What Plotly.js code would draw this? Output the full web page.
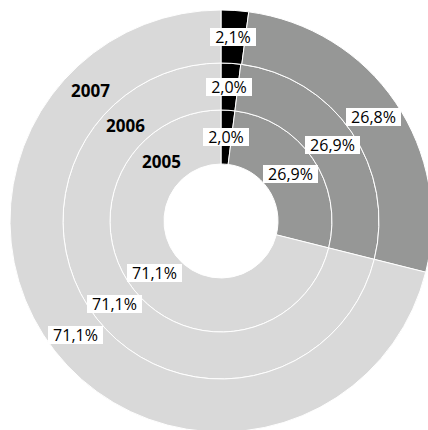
<!DOCTYPE html>
<html>
<head>
<meta charset="utf-8">
<script src="https://cdn.plot.ly/plotly-3.0.1.min.js"></script>
<style>
html,body{margin:0;padding:0;overflow:hidden;background:#fff;}
#chart{width:440px;height:440px;}
</style>
</head>
<body>
<div id="chart"></div>
<script>
// Data
var years = ["2005", "2006", "2007"];
var categories = ["Kategorie A", "Kategorie B", "Kategorie C"];
var values2005 = [2.0, 26.9, 71.1];
var values2006 = [2.0, 26.9, 71.1];
var values2007 = [2.1, 26.8, 71.1];
var colors = ["#000000", "#969796", "#d9d9d9"];

// Layout geometry (pixels)
var W = 440, H = 440;
var cx = 221, cy = 221;
var radii = [57, 111, 158, 211]; // hole, 2005 outer, 2006 outer, 2007 outer
var seriesList = [values2005, values2006, values2007];

function fmt(v){ return v.toFixed(1).replace('.', ',') + '%'; }

var ctx = document.createElement('canvas').getContext('2d');
var FONT_PCT = 16;
ctx.font = FONT_PCT + "px 'Open Sans'";

var traces = [];
var annotations = [];
for (var i = 0; i < 3; i++) {
  var R = radii[i + 1], r = radii[i];
  traces.push({
    type: 'pie',
    values: seriesList[i],
    labels: categories,
    sort: false,
    direction: 'clockwise',
    rotation: 0,
    hole: r / R,
    textinfo: 'none',
    hoverinfo: 'none',
    showlegend: false,
    marker: {colors: colors, line: {color: '#ffffff', width: 1}},
    domain: {
      x: [(cx - R) / W, (cx + R) / W],
      y: [1 - (cy + R) / H, 1 - (cy - R) / H]
    }
  });
  var midR = (R + r) / 2;
  var vals = seriesList[i];
  var total = vals.reduce(function(a, b){ return a + b; }, 0);
  var cum = 0;
  for (var j = 0; j < vals.length; j++) {
    var frac = (cum + vals[j] / 2) / total;
    cum += vals[j];
    var th = frac * 2 * Math.PI;
    var px = cx + midR * Math.sin(th);
    var py = cy - midR * Math.cos(th);
    var txt = fmt(vals[j]);
    var tw = ctx.measureText(txt).width;
    annotations.push({
      xref: 'paper', yref: 'paper',
      x: px / W, y: 1 - py / H,
      xanchor: 'center', yanchor: 'middle',
      text: txt, showarrow: false,
      font: {family: "'Open Sans', sans-serif", size: FONT_PCT, color: '#000000'},
      bgcolor: '#ffffff', borderpad: 0, borderwidth: 0,
      width: Math.round(tw + 10), height: 18
    });
  }
  // year label at 315 degrees
  var ty = 315 / 180 * Math.PI;
  annotations.push({
    xref: 'paper', yref: 'paper',
    x: (cx + midR * Math.sin(ty)) / W, y: 1 - (cy - midR * Math.cos(ty)) / H,
    xanchor: 'center', yanchor: 'middle',
    text: '<b>' + years[i] + '</b>', showarrow: false,
    font: {family: "'Open Sans', sans-serif", size: 17, color: '#000000'}
  });
}

var layout = {
  width: W, height: H,
  margin: {l: 0, r: 0, t: 0, b: 0},
  paper_bgcolor: '#ffffff',
  showlegend: false,
  annotations: annotations
};

Plotly.newPlot('chart', traces, layout, {staticPlot: true, displayModeBar: false});
</script>
</body>
</html>
